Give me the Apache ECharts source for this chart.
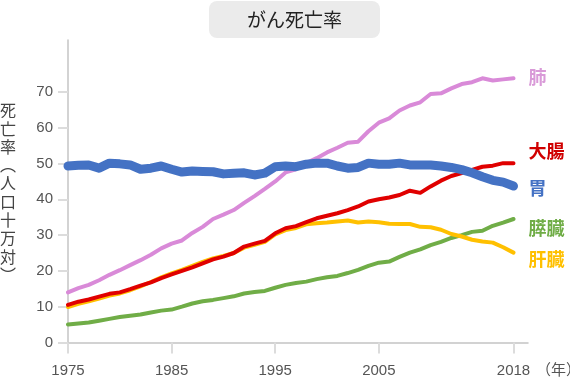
<!DOCTYPE html>
<html>
<head>
<meta charset="utf-8">
<script src="https://cdn.jsdelivr.net/npm/echarts@6/dist/echarts.min.js"></script>
<style>html,body{margin:0;padding:0;background:#fff}#c{width:570px;height:380px}</style>
</head>
<body>
<div id="c"></div>
<script>
var years = [1975,1976,1977,1978,1979,1980,1981,1982,1983,1984,1985,1986,1987,1988,1989,1990,1991,1992,1993,1994,1995,1996,1997,1998,1999,2000,2001,2002,2003,2004,2005,2006,2007,2008,2009,2010,2011,2012,2013,2014,2015,2016,2017,2018];
var xTicks = [1975,1985,1995,2005,2018];
var yTicks = [0,10,20,30,40,50,60,70];
var lung = [14.0,15.2,16.1,17.4,18.9,20.2,21.6,23.0,24.5,26.3,27.6,28.5,30.6,32.3,34.5,35.7,37.0,39.0,40.9,42.9,45.0,47.5,48.4,50.1,51.5,53.1,54.4,55.8,56.1,59.0,61.4,62.6,64.8,66.2,67.1,69.4,69.6,71.0,72.2,72.7,73.8,73.2,73.5,73.8];
var colon = [10.5,11.4,12.0,12.8,13.6,14.0,14.9,15.9,16.8,18.0,19.0,20.0,21.0,22.1,23.2,24.0,25.0,26.8,27.6,28.4,30.5,31.9,32.5,33.6,34.7,35.4,36.1,37.0,38.0,39.4,40.0,40.5,41.2,42.4,41.8,43.6,45.2,46.5,47.3,48.2,49.1,49.4,50.1,50.1];
var stomach = [49.3,49.5,49.6,48.7,50.1,49.9,49.6,48.4,48.7,49.3,48.4,47.6,47.9,47.8,47.7,47.1,47.3,47.4,46.8,47.3,49.1,49.3,49.1,49.8,50.1,50.1,49.3,48.7,48.9,50.1,49.8,49.8,50.1,49.6,49.6,49.6,49.3,48.9,48.3,47.4,46.3,45.3,44.8,43.7];
var pancreas = [5.0,5.3,5.6,6.1,6.6,7.1,7.5,7.8,8.4,8.9,9.2,10.0,10.9,11.5,11.9,12.4,12.9,13.7,14.1,14.4,15.3,16.1,16.6,17.0,17.7,18.2,18.6,19.4,20.3,21.4,22.3,22.6,23.9,25.1,26.0,27.2,28.1,29.2,30.0,30.9,31.2,32.6,33.5,34.5];
var liver = [9.9,10.8,11.5,12.3,13.1,13.7,14.6,15.7,16.9,18.2,19.3,20.3,21.4,22.5,23.5,24.2,25.0,26.5,27.3,28.1,30.2,31.4,32.0,33.0,33.3,33.5,33.8,34.1,33.5,33.8,33.6,33.2,33.1,33.1,32.3,32.2,31.5,30.3,29.6,28.7,28.2,27.9,26.6,25.1];
var names = {lung:'肺', colon:'大腸', stomach:'胃', pancreas:'膵臓', liver:'肝臓'};

function pairs(arr){ return years.map(function(y,i){ return [y, arr[i]]; }); }
var FONT = "'Liberation Sans', 'Noto Sans CJK JP', sans-serif";
var CJK = "'Noto Sans CJK JP', sans-serif";
function mk(name, arr, color, labelColor, width, dy){
  return {
    type:'line', name:name, data:pairs(arr), showSymbol:false, silent:true,
    lineStyle:{color:color, width:width, cap:'round', join:'round'},
    itemStyle:{color:color},
    endLabel:{show:true, formatter:'{a}', distance:15, offset:[0,dy], color:labelColor,
      fontSize:18, fontWeight:'bold', fontFamily:CJK}
  };
}
var chart = echarts.init(document.getElementById('c'), null, {renderer:'canvas'});
chart.setOption({
  animation:false,
  textStyle:{fontFamily:FONT},
  title:{text:'がん死亡率', left:209, top:1, backgroundColor:'#ebebeb', borderRadius:8,
    padding:[9,38,9,38], textStyle:{fontSize:19, fontWeight:'normal', color:'#222', fontFamily:CJK}},
  grid:{left:68, right:42, top:40, bottom:35, outerBoundsMode:'none'},
  xAxis:{type:'value', min:1975, max:2019.4,
    name:'（年）', nameLocation:'end', nameGap:1,
    nameTextStyle:{color:'#555', fontSize:15, fontFamily:CJK, verticalAlign:'top', padding:[19,0,0,0]},
    axisLine:{lineStyle:{color:'#c4c4c4', width:1.5}},
    axisTick:{show:true, length:11, customValues:xTicks, lineStyle:{color:'#dcdcdc', width:2}},
    axisLabel:{customValues:xTicks, color:'#555', fontSize:15, margin:18, formatter:function(v){return String(Math.round(v));}},
    splitLine:{show:false}},
  yAxis:{type:'value', min:-0.7, max:84.5,
    name:'死\n亡\n率\n︵\n人\n口\n十\n万\n対\n︶', nameLocation:'middle', nameRotate:0, nameGap:60,
    nameTextStyle:{color:'#444', fontSize:16, lineHeight:18.3, fontFamily:CJK, align:'center', padding:[0,0,10,0]},
    axisLine:{show:true, lineStyle:{color:'#c4c4c4', width:1.5}},
    axisTick:{show:true, length:10, customValues:yTicks, lineStyle:{color:'#dcdcdc', width:2}},
    axisLabel:{customValues:yTicks, color:'#555', fontSize:15, margin:15},
    splitLine:{show:false}},
  series:[
    mk(names.pancreas, pancreas, '#70ad47', '#70ad47', 4, 9),
    mk(names.liver, liver, '#ffc000', '#ffc000', 4, 7),
    mk(names.colon, colon, '#e00000', '#d00000', 4, -12),
    mk(names.lung, lung, '#d98ad8', '#d99ad8', 4, -1),
    mk(names.stomach, stomach, '#4472c4', '#4472c4', 9, 2)
  ]
});
</script>
</body>
</html>
